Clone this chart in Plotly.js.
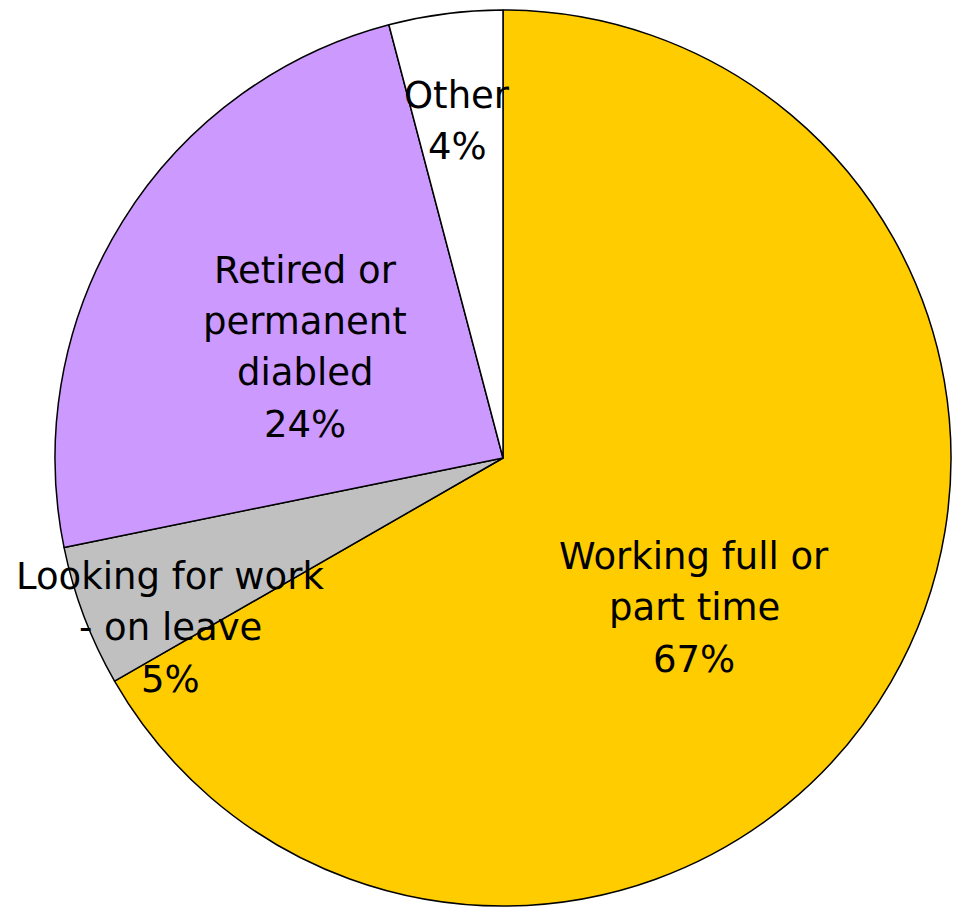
<!DOCTYPE html>
<html>
<head>
<meta charset="utf-8">
<script src="https://cdn.plot.ly/plotly-3.0.1.min.js"></script>
<style>html,body{margin:0;padding:0;background:#fff;}</style>
</head>
<body>
<div id="chart" style="width:961px;height:916px;"></div>
<script>
// Data
var categories = ["Working full or part time", "Looking for work - on leave", "Retired or permanent diabled", "Other"];
var labelLines = [["Working full or", "part time"], ["Looking for work", "- on leave"], ["Retired or", "permanent", "diabled"], ["Other"]];
var values = [66.7, 5.1, 24.1, 4.1];
var colors = ["#FFCC00", "#C0C0C0", "#CC99FF", "#FFFFFF"];

// Layout helpers (pixel anchors for label blocks: centre of first line)
var W = 961, H = 916;
var labelAnchors = [[694, 556], [170, 576], [305, 270], [457, 95]];
var lineGap = 51.5;

var total = values.reduce(function(a, b){ return a + b; }, 0);
var annotations = [];
categories.forEach(function(c, i){
  var lines = labelLines[i].concat([Math.round(values[i] / total * 100) + "%"]);
  lines.forEach(function(t, j){
    annotations.push({
      text: t,
      x: labelAnchors[i][0] / W,
      y: 1 - (labelAnchors[i][1] + j * lineGap) / H,
      xref: "paper", yref: "paper",
      xanchor: "center", yanchor: "middle",
      showarrow: false,
      font: {family: "DejaVu Sans, Verdana, sans-serif", size: 37, color: "#000"}
    });
  });
});

var trace = {
  type: "pie",
  labels: categories,
  values: values,
  sort: false,
  direction: "clockwise",
  rotation: 0,
  textinfo: "none",
  hoverinfo: "label+percent",
  marker: {colors: colors, line: {color: "#000", width: 1.5}},
  domain: {x: [55 / W, 951 / W], y: [1 - 907 / H, 1 - 9 / H]}
};

var layout = {
  width: W, height: H,
  margin: {l: 0, r: 0, t: 0, b: 0},
  showlegend: false,
  paper_bgcolor: "#fff",
  annotations: annotations
};

Plotly.newPlot("chart", [trace], layout, {displayModeBar: false, staticPlot: true});
</script>
</body>
</html>
